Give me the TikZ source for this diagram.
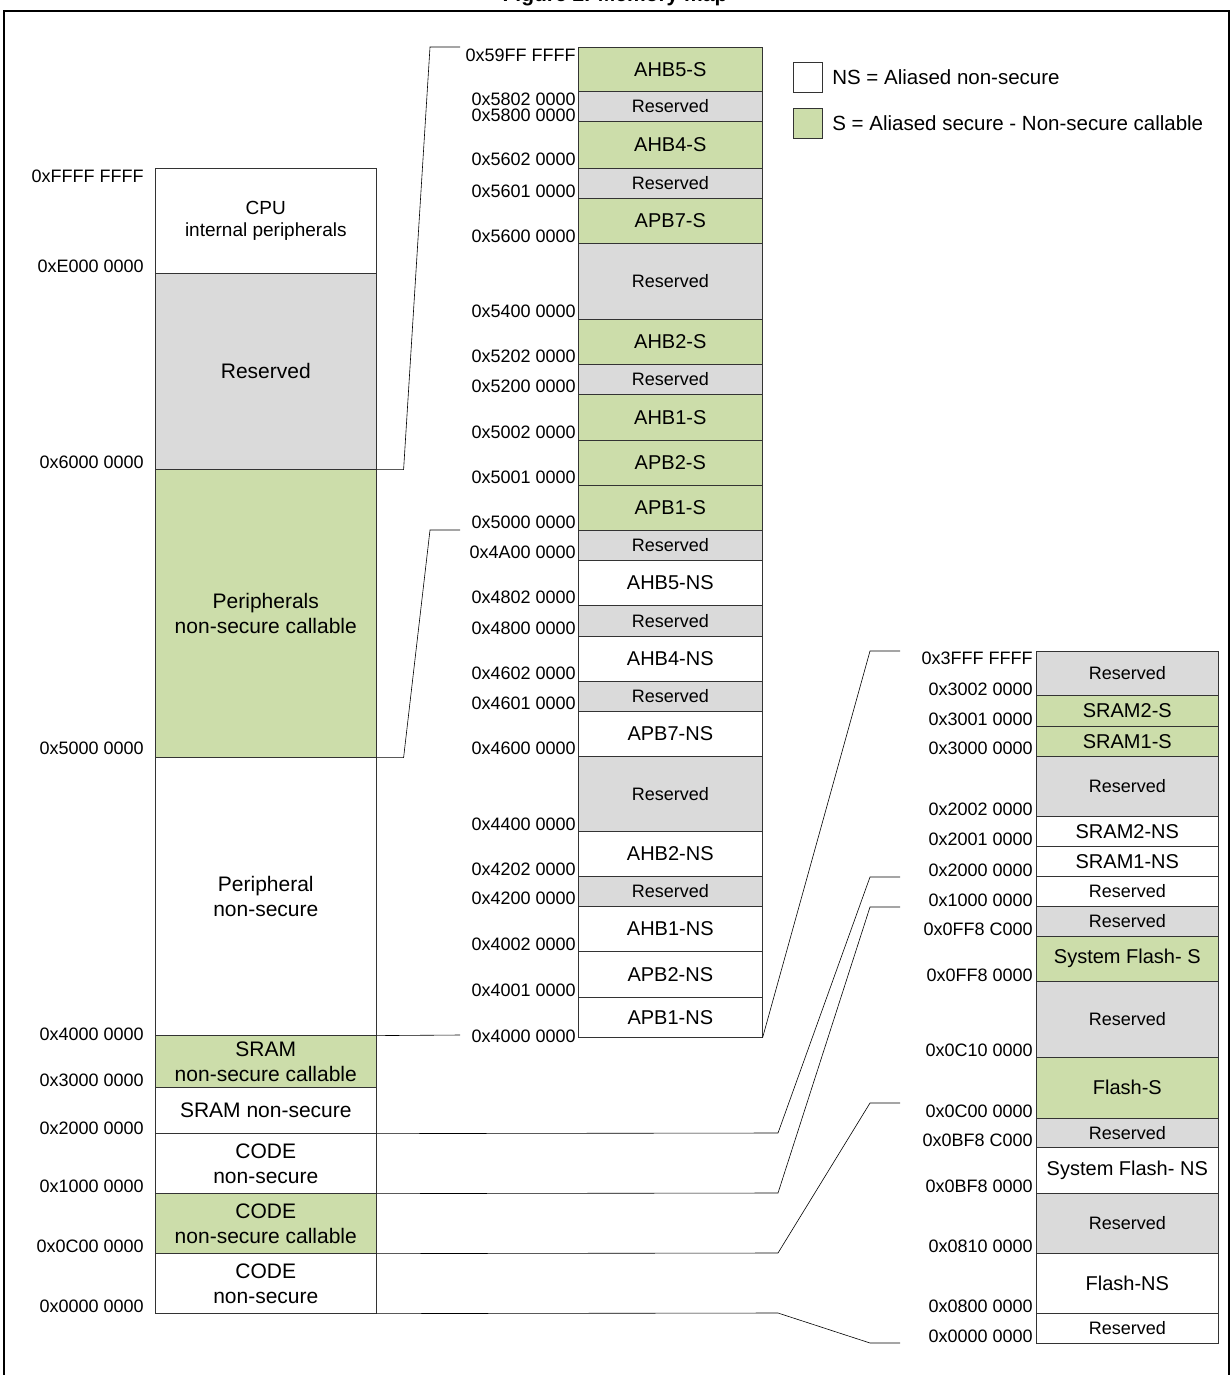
\documentclass[tikz,border=0pt]{standalone}
\usepackage{fontspec}
\setmainfont{Liberation Sans}
\definecolor{gr}{HTML}{CCDDAA}
\definecolor{gy}{HTML}{DADADA}
\newcommand\bx[7]{\node[draw=black!80,line width=0.6pt,fill=#5,inner sep=0pt,anchor=north west,align=center,
  minimum width=\the\numexpr#2-#1\relax pt,minimum height=\the\numexpr#4-#3\relax pt,#6] at (#1,#3) #7;}
\newcommand\ad[4]{\node[font=\fontsize{18}{20}\selectfont,anchor=east,inner sep=1pt] (#1) at (#2,#3) {#4};}
\begin{document}
\begin{tikzpicture}[x=1pt,y=-1pt,line width=0.6pt]
\useasboundingbox (0,0) rectangle (1230,1375);
\tikzset{big/.style={font=\fontsize{21}{25}\selectfont},sm/.style={font=\fontsize{18}{21}\selectfont},mid/.style={font=\fontsize{20}{23}\selectfont},cpus/.style={font=\fontsize{19}{22}\selectfont}}
\node[font=\bfseries\fontsize{21}{25}\selectfont] (title) at (615,-4) {Figure 2. Memory map};
\draw[line width=1.2pt] (4,1375) -- (4,11) -- (1229,11) -- (1229,1375);
% left column
\bx{155}{376}{168}{273}{white}{cpus}{(cpu){CPU\\internal peripherals}}
\bx{155}{376}{273}{469}{gy}{big}{(lres){Reserved}}
\bx{155}{376}{469}{757}{gr}{big}{(pnsc){Peripherals\\non-secure callable}}
\bx{155}{376}{757}{1035}{white}{big}{(pns){Peripheral\\non-secure}}
\bx{155}{376}{1035}{1087}{gr}{big}{(sramnsc){SRAM\\non-secure callable}}
\bx{155}{376}{1087}{1133}{white}{big}{(sramns){SRAM non-secure}}
\bx{155}{376}{1133}{1193}{white}{big}{(codens1){CODE\\non-secure}}
\bx{155}{376}{1193}{1253}{gr}{big}{(codensc){CODE\\non-secure callable}}
\bx{155}{376}{1253}{1313}{white}{big}{(codens2){CODE\\non-secure}}
\ad{la1}{145}{176}{0xFFFF FFFF}
\ad{la2}{145}{266}{0xE000 0000}
\ad{la3}{145}{462}{0x6000 0000}
\ad{la4}{145}{748}{0x5000 0000}
\ad{la5}{145}{1034}{0x4000 0000}
\ad{la6}{145}{1080}{0x3000 0000}
\ad{la7}{145}{1128}{0x2000 0000}
\ad{la8}{145}{1186}{0x1000 0000}
\ad{la9}{145}{1246}{0x0C00 0000}
\ad{la10}{145}{1306}{0x0000 0000}
% middle column
\bx{578}{762}{47}{91}{gr}{mid}{(m1){AHB5-S}}
\bx{578}{762}{91}{121}{gy}{sm}{(m2){Reserved}}
\bx{578}{762}{121}{168}{gr}{mid}{(m3){AHB4-S}}
\bx{578}{762}{168}{198}{gy}{sm}{(m4){Reserved}}
\bx{578}{762}{198}{243}{gr}{mid}{(m5){APB7-S}}
\bx{578}{762}{243}{319}{gy}{sm}{(m6){Reserved}}
\bx{578}{762}{319}{364}{gr}{mid}{(m7){AHB2-S}}
\bx{578}{762}{364}{394}{gy}{sm}{(m8){Reserved}}
\bx{578}{762}{394}{440}{gr}{mid}{(m9){AHB1-S}}
\bx{578}{762}{440}{485}{gr}{mid}{(m10){APB2-S}}
\bx{578}{762}{485}{530}{gr}{mid}{(m11){APB1-S}}
\bx{578}{762}{530}{560}{gy}{sm}{(m12){Reserved}}
\bx{578}{762}{560}{605}{white}{mid}{(m13){AHB5-NS}}
\bx{578}{762}{605}{636}{gy}{sm}{(m14){Reserved}}
\bx{578}{762}{636}{681}{white}{mid}{(m15){AHB4-NS}}
\bx{578}{762}{681}{711}{gy}{sm}{(m16){Reserved}}
\bx{578}{762}{711}{756}{white}{mid}{(m17){APB7-NS}}
\bx{578}{762}{756}{831}{gy}{sm}{(m18){Reserved}}
\bx{578}{762}{831}{876}{white}{mid}{(m19){AHB2-NS}}
\bx{578}{762}{876}{906}{gy}{sm}{(m20){Reserved}}
\bx{578}{762}{906}{951}{white}{mid}{(m21){AHB1-NS}}
\bx{578}{762}{951}{997}{white}{mid}{(m22){APB2-NS}}
\bx{578}{762}{997}{1037}{white}{mid}{(m23){APB1-NS}}
\ad{ma1}{577}{55}{0x59FF FFFF}
\ad{ma2}{577}{99}{0x5802 0000}
\ad{ma3}{577}{115}{0x5800 0000}
\ad{ma4}{577}{159}{0x5602 0000}
\ad{ma5}{577}{191}{0x5601 0000}
\ad{ma6}{577}{236}{0x5600 0000}
\ad{ma7}{577}{311}{0x5400 0000}
\ad{ma8}{577}{356}{0x5202 0000}
\ad{ma9}{577}{386}{0x5200 0000}
\ad{ma10}{577}{432}{0x5002 0000}
\ad{ma11}{577}{477}{0x5001 0000}
\ad{ma12}{577}{522}{0x5000 0000}
\ad{ma13}{577}{552}{0x4A00 0000}
\ad{ma14}{577}{597}{0x4802 0000}
\ad{ma15}{577}{628}{0x4800 0000}
\ad{ma16}{577}{673}{0x4602 0000}
\ad{ma17}{577}{703}{0x4601 0000}
\ad{ma18}{577}{748}{0x4600 0000}
\ad{ma19}{577}{824}{0x4400 0000}
\ad{ma20}{577}{869}{0x4202 0000}
\ad{ma21}{577}{898}{0x4200 0000}
\ad{ma22}{577}{944}{0x4002 0000}
\ad{ma23}{577}{990}{0x4001 0000}
\ad{ma24}{577}{1036}{0x4000 0000}
% right column
\bx{1036}{1218}{651}{695}{gy}{sm}{(r1){Reserved}}
\bx{1036}{1218}{695}{726}{gr}{mid}{(r2){SRAM2-S}}
\bx{1036}{1218}{726}{756}{gr}{mid}{(r3){SRAM1-S}}
\bx{1036}{1218}{756}{816}{gy}{sm}{(r4){Reserved}}
\bx{1036}{1218}{816}{846}{white}{mid}{(r5){SRAM2-NS}}
\bx{1036}{1218}{846}{876}{white}{mid}{(r6){SRAM1-NS}}
\bx{1036}{1218}{876}{906}{white}{sm}{(r7){Reserved}}
\bx{1036}{1218}{906}{936}{gy}{sm}{(r8){Reserved}}
\bx{1036}{1218}{936}{981}{gr}{mid}{(r9){System Flash- S}}
\bx{1036}{1218}{981}{1057}{gy}{sm}{(r10){Reserved}}
\bx{1036}{1218}{1057}{1118}{gr}{mid}{(r11){Flash-S}}
\bx{1036}{1218}{1118}{1147}{gy}{sm}{(r12){Reserved}}
\bx{1036}{1218}{1147}{1193}{white}{mid}{(r13){System Flash- NS}}
\bx{1036}{1218}{1193}{1253}{gy}{sm}{(r14){Reserved}}
\bx{1036}{1218}{1253}{1313}{white}{mid}{(r15){Flash-NS}}
\bx{1036}{1218}{1313}{1343}{white}{sm}{(r16){Reserved}}
\ad{ra1}{1034}{658}{0x3FFF FFFF}
\ad{ra2}{1034}{689}{0x3002 0000}
\ad{ra3}{1034}{719}{0x3001 0000}
\ad{ra4}{1034}{748}{0x3000 0000}
\ad{ra5}{1034}{809}{0x2002 0000}
\ad{ra6}{1034}{839}{0x2001 0000}
\ad{ra7}{1034}{870}{0x2000 0000}
\ad{ra8}{1034}{900}{0x1000 0000}
\ad{ra9}{1034}{929}{0x0FF8 C000}
\ad{ra10}{1034}{975}{0x0FF8 0000}
\ad{ra11}{1034}{1050}{0x0C10 0000}
\ad{ra12}{1034}{1111}{0x0C00 0000}
\ad{ra13}{1034}{1140}{0x0BF8 C000}
\ad{ra14}{1034}{1186}{0x0BF8 0000}
\ad{ra15}{1034}{1246}{0x0810 0000}
\ad{ra16}{1034}{1306}{0x0800 0000}
\ad{ra17}{1034}{1336}{0x0000 0000}
% legend
\bx{793}{822}{62}{92}{white}{}{(lgw){}}
\bx{793}{822}{108}{138}{gr}{}{(lgg){}}
\node[font=\fontsize{20.5}{24}\selectfont,anchor=west,inner sep=0pt] (lt1) at (832,77) {NS = Aliased non-secure};
\node[font=\fontsize{20.5}{24}\selectfont,anchor=west,inner sep=0pt] (lt2) at (832,123) {S = Aliased secure - Non-secure callable};
% connectors
\coordinate (c1) at (460,47);
\coordinate (c2) at (460,530);
\coordinate (c3) at (460,1035);
\coordinate (c4) at (900,651);
\draw (lres.south east) -- ++(27,0) -- (430,47) -- (c1);
\draw (pnsc.south east) -- ++(27,0) -- (430,530) -- (c2);
\draw (pns.south east) -- (c3);
\draw (m23.south east) -- (870,651) -- (c4);
\draw (sramns.south east) -- (778,1133) -- (870,877) -- (900,877);
\draw (codens1.south east) -- (778,1193) -- (870,907) -- (900,907);
\draw (codensc.south east) -- (778,1253) -- (870,1103) -- (900,1103);
\draw (codens2.south east) -- (778,1313) -- (870,1343) -- (900,1343);
\end{tikzpicture}
\end{document}
